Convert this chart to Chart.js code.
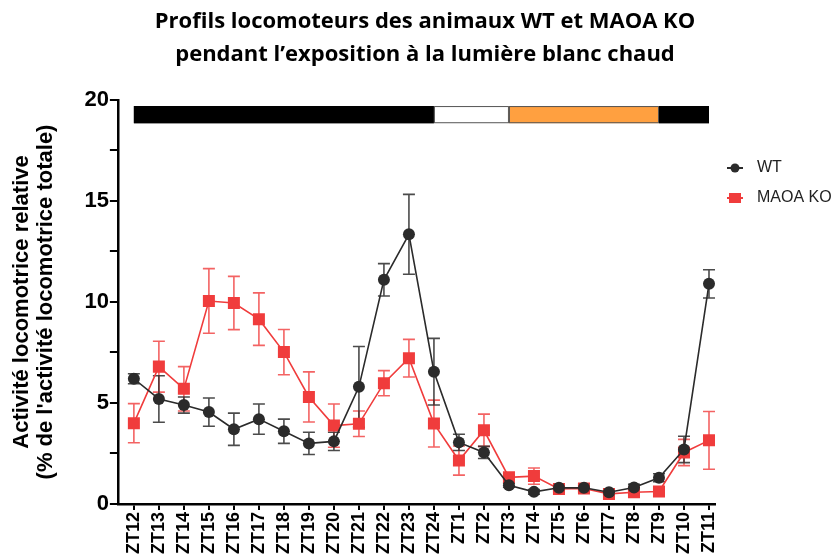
<!DOCTYPE html>
<html lang="fr">
<head>
<meta charset="utf-8">
<title>Profils locomoteurs WT / MAOA KO</title>
<script src="https://cdn.jsdelivr.net/npm/chart.js@4.4.0/dist/chart.umd.min.js"></script>
<style>
    html, body { margin: 0; padding: 0; background: #fff; }
    #graphique { display: block; }
</style>
</head>
<body>
<canvas id="graphique" width="840" height="558"></canvas>
<script>
// --- Données ---
const etiquettesZT = ['ZT12', 'ZT13', 'ZT14', 'ZT15', 'ZT16', 'ZT17', 'ZT18', 'ZT19', 'ZT20', 'ZT21', 'ZT22', 'ZT23', 'ZT24',
    'ZT1', 'ZT2', 'ZT3', 'ZT4', 'ZT5', 'ZT6', 'ZT7', 'ZT8', 'ZT9', 'ZT10', 'ZT11'];

const moyenneWT = [6.2, 5.2, 4.9, 4.55, 3.7, 4.2, 3.6, 3.0, 3.1, 5.8, 11.1, 13.35, 6.55,
    3.05, 2.55, 0.93, 0.6, 0.8, 0.8, 0.58, 0.82, 1.3, 2.7, 10.9];
const semWT = [0.25, 1.15, 0.4, 0.7, 0.8, 0.75, 0.6, 0.55, 0.45, 2.0, 0.8, 1.98, 1.65,
    0.4, 0.3, 0.1, 0.12, 0.15, 0.2, 0.1, 0.15, 0.2, 0.65, 0.7];

const moyenneKO = [4.0, 6.8, 5.7, 10.05, 9.95, 9.15, 7.52, 5.3, 3.88, 3.97, 5.98, 7.22, 3.98,
    2.15, 3.65, 1.32, 1.38, 0.74, 0.77, 0.5, 0.58, 0.62, 2.55, 3.15];
const semKO = [0.97, 1.26, 1.1, 1.6, 1.32, 1.3, 1.12, 1.24, 1.07, 0.63, 0.62, 0.93, 1.16,
    0.72, 0.8, 0.1, 0.4, 0.15, 0.12, 0.1, 0.08, 0.08, 0.65, 1.43];

// phases d'éclairage (indices ZT de début et de fin)
const phasesDebut = [0, 12, 15, 21];
const phasesFin = [12, 15, 21, 23];
const phasesType = ['nuit', 'lumière', 'blanc chaud', 'nuit'];

const NOIR = '#2b2b2b';
const ROUGE = '#f03c3c';

document.addEventListener('DOMContentLoaded', function () {
    const ctx = document.getElementById('graphique').getContext('2d');

    function enPoints(valeurs) {
        return valeurs.map((v, i) => ({ x: i, y: v }));
    }

    // --- Barres d'erreur (SEM) ---
    const barresErreur = {
        id: 'barresErreur',
        beforeDatasetsDraw(chart) {
            const c = chart.ctx;
            const xs = chart.scales.x;
            const ys = chart.scales.y;
            const series = [
                { moy: moyenneKO, sem: semKO, couleur: 'rgba(240, 60, 60, 0.8)' },
                { moy: moyenneWT, sem: semWT, couleur: 'rgba(43, 43, 43, 0.85)' }
            ];
            c.save();
            c.lineWidth = 1.6;
            series.forEach(s => {
                c.strokeStyle = s.couleur;
                s.moy.forEach((m, i) => {
                    const x = xs.getPixelForValue(i);
                    const yHaut = ys.getPixelForValue(m + s.sem[i]);
                    const yBas = ys.getPixelForValue(m - s.sem[i]);
                    c.beginPath();
                    c.moveTo(x, yHaut);
                    c.lineTo(x, yBas);
                    c.moveTo(x - 6, yHaut);
                    c.lineTo(x + 6, yHaut);
                    c.moveTo(x - 6, yBas);
                    c.lineTo(x + 6, yBas);
                    c.stroke();
                });
            });
            c.restore();
        }
    };

    // --- Bandeau lumière / obscurité en haut ---
    const bandeauPhases = {
        id: 'bandeauPhases',
        afterDatasetsDraw(chart) {
            const c = chart.ctx;
            const xs = chart.scales.x;
            const ys = chart.scales.y;
            const couleurs = { 'nuit': '#000000', 'lumière': '#ffffff', 'blanc chaud': '#ffa040' };
            const yHaut = ys.getPixelForValue(19.7);
            const yBas = ys.getPixelForValue(18.85);
            c.save();
            phasesType.forEach((type, i) => {
                const x0 = xs.getPixelForValue(phasesDebut[i]);
                const x1 = xs.getPixelForValue(phasesFin[i]);
                c.fillStyle = couleurs[type];
                c.fillRect(x0, yHaut, x1 - x0, yBas - yHaut);
                c.strokeStyle = type === 'nuit' ? '#000' : '#555';
                c.lineWidth = 1;
                c.strokeRect(x0 + 0.5, yHaut + 0.5, x1 - x0 - 1, yBas - yHaut - 1);
            });
            c.restore();
        }
    };

    // --- Légende à droite ---
    const legendeDroite = {
        id: 'legendeDroite',
        afterDraw(chart) {
            const c = chart.ctx;
            const x = chart.chartArea.right + 20;
            const entrees = [
                { nom: 'WT', couleur: NOIR, forme: 'circle', y: 168 },
                { nom: 'MAOA KO', couleur: ROUGE, forme: 'rect', y: 198 }
            ];
            c.save();
            c.font = '16px "Liberation Sans", Arial, sans-serif';
            c.textBaseline = 'middle';
            entrees.forEach(e => {
                c.strokeStyle = e.couleur;
                c.fillStyle = e.couleur;
                c.lineWidth = 2;
                c.beginPath();
                c.moveTo(x - 8, e.y);
                c.lineTo(x + 8, e.y);
                c.stroke();
                if (e.forme === 'circle') {
                    c.beginPath();
                    c.arc(x, e.y, 4.5, 0, Math.PI * 2);
                    c.fill();
                } else {
                    c.fillRect(x - 6, e.y - 5, 12, 10);
                }
                c.fillStyle = '#222';
                c.fillText(e.nom, x + 22, e.y);
            });
            c.restore();
        }
    };

    new Chart(ctx, {
        type: 'line',
        data: {
            datasets: [{
                label: 'WT',
                data: enPoints(moyenneWT),
                borderColor: NOIR,
                backgroundColor: NOIR,
                borderWidth: 1.6,
                pointStyle: 'circle',
                pointRadius: 6,
                pointBorderWidth: 0
            }, {
                label: 'MAOA KO',
                data: enPoints(moyenneKO),
                borderColor: ROUGE,
                backgroundColor: ROUGE,
                borderWidth: 1.6,
                pointStyle: 'rect',
                pointRadius: 8.5,
                pointBorderWidth: 0
            }]
        },
        options: {
            responsive: false,
            animation: false,
            layout: { padding: { left: 10, right: 0, top: 2, bottom: 2 } },
            plugins: {
                legend: { display: false },
                tooltip: { enabled: false },
                title: {
                    display: true,
                    text: ['Profils locomoteurs des animaux WT et MAOA KO',
                        'pendant l\u2019exposition à la lumière blanc chaud'],
                    color: '#000',
                    font: { family: '"Open Sans", sans-serif', size: 22, weight: 'bold', lineHeight: 1.5 },
                    padding: { top: 3, bottom: 29 }
                }
            },
            scales: {
                x: {
                    type: 'linear',
                    min: -0.64,
                    max: 23.24,
                    grid: { drawOnChartArea: false, color: '#000', lineWidth: 2, tickLength: 6 },
                    border: { color: '#000', width: 2.5 },
                    ticks: {
                        stepSize: 1,
                        autoSkip: false,
                        includeBounds: false,
                        maxRotation: 90,
                        minRotation: 90,
                        padding: 2,
                        color: '#000',
                        font: { family: '"Liberation Sans", Arial, sans-serif', size: 18, weight: 'bold' },
                        callback: v => etiquettesZT[v] ?? ''
                    }
                },
                y: {
                    min: 0,
                    max: 20,
                    grid: { drawOnChartArea: false, color: '#000', lineWidth: 2, tickLength: 8 },
                    border: { color: '#000', width: 2.5 },
                    ticks: {
                        stepSize: 2.5,
                        padding: 1,
                        color: '#000',
                        font: { family: '"Liberation Sans", Arial, sans-serif', size: 22, weight: 'bold' },
                        callback: v => (v % 5 === 0 ? v : '')
                    },
                    title: {
                        display: true,
                        text: ['Activité locomotrice relative', '(% de l\'activité locomotrice totale)'],
                        color: '#000',
                        font: { family: '"Liberation Sans", Arial, sans-serif', size: 22, weight: 'bold', lineHeight: 1.1 },
                        padding: { top: 0, bottom: 25 }
                    }
                },
                // axe vide à droite : réserve la place de la légende
                marge: {
                    position: 'right',
                    grid: { display: false },
                    border: { display: false },
                    ticks: { display: false },
                    afterFit: scale => { scale.width = 125; }
                }
            }
        },
        plugins: [barresErreur, bandeauPhases, legendeDroite]
    });
});
</script>
</body>
</html>
